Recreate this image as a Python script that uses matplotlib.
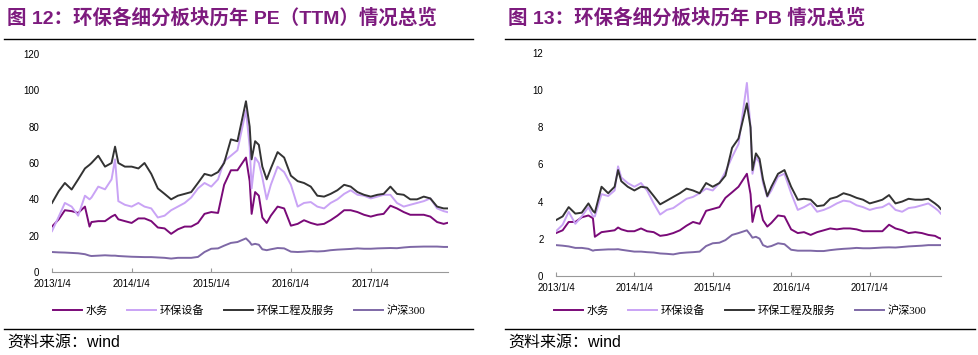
import pandas as pd
import matplotlib
matplotlib.use('Agg')
import matplotlib.pyplot as plt
from matplotlib.lines import Line2D

plt.rcParams['font.family'] = ['Liberation Sans', 'Noto Sans CJK SC']

# sampling dates (monthly, plus extra points around the 2015 swings)
dates = ['2013-01-04', '2013-02-04', '2013-03-04', '2013-04-04', '2013-05-04', '2013-06-04', '2013-06-25',
         '2013-07-04', '2013-08-04', '2013-09-04', '2013-10-04', '2013-10-20', '2013-11-04', '2013-12-04',
         '2014-01-04', '2014-02-04', '2014-03-04', '2014-04-04', '2014-05-04', '2014-06-04',
         '2014-07-04', '2014-08-04', '2014-09-04', '2014-10-04', '2014-11-04', '2014-12-04',
         '2015-01-04', '2015-02-04', '2015-03-04', '2015-04-04', '2015-05-04', '2015-06-12', '2015-06-29',
         '2015-07-08', '2015-07-24', '2015-08-10', '2015-08-26', '2015-09-15', '2015-10-04', '2015-11-04', '2015-12-04',
         '2016-01-04', '2016-02-04', '2016-03-04', '2016-04-04', '2016-05-04', '2016-06-04',
         '2016-07-04', '2016-08-04', '2016-09-04', '2016-10-04', '2016-11-04', '2016-12-04',
         '2017-01-04', '2017-02-04', '2017-03-04', '2017-04-04', '2017-05-04', '2017-06-04',
         '2017-07-04', '2017-08-04', '2017-09-04', '2017-10-04', '2017-11-04', '2017-12-04', '2017-12-20']
pb_dates = dates[:-2] + ['2017-11-20', '2017-12-01']

names = ['水务', '环保设备', '环保工程及服务', '沪深300']
colors = ['#7A0A78', '#C9A3F5', '#333333', '#7E68A6']

# PE (TTM)
pe_water = [25, 29, 34, 33.5, 32.5, 36, 25, 27.5, 28, 28, 30.5, 31.5, 29, 28,
            27, 29.5, 29.5, 28, 24.5, 24, 21, 23.5, 25, 25, 27, 32,
            33, 32.5, 48, 56, 56, 63, 50, 32, 44, 42, 30, 27, 31, 36, 35,
            25.5, 26.5, 28.5, 27, 26, 26.5, 28.5, 31, 34, 34, 33, 31.5,
            30.5, 31.5, 32, 36.5, 35, 33, 31.5, 31.5, 31.5, 30.5, 27.5, 26.5, 27]
pe_equip = [22.5, 30.5, 38, 36, 31, 42, 40, 41, 47, 45.5, 51, 62, 39, 37,
            36, 38, 36, 35, 30, 31, 34, 36, 38, 41, 46, 49,
            47, 51, 61, 64, 67, 89, 69, 46, 63, 60, 52, 40, 48, 58, 55,
            48, 36, 38, 38.5, 36, 35, 38, 40, 43, 45, 42.5, 42,
            40.5, 41.5, 42.5, 42.5, 38, 36, 37, 38, 39, 40.5, 35, 33.5, 33]
pe_eng = [38, 44.5, 49, 45.4, 51, 57, 59, 60, 64, 58, 60, 69, 60, 58,
          58, 57, 60, 54, 46, 43, 40, 42, 43, 44, 49, 54,
          53, 55, 60, 73, 72, 94, 80, 62, 72, 70, 58, 51, 57, 66, 63,
          53, 50, 49, 47, 42, 41.5, 43, 45, 48, 47, 44, 42.5,
          41.5, 42.5, 43, 47, 43, 42.5, 40, 40, 41.5, 40.5, 36, 35, 35]
pe_hs300 = [11, 10.8, 10.7, 10.5, 10.3, 9.8, 9, 8.8, 9, 9.2, 9, 9, 8.8, 8.6,
            8.4, 8.3, 8.2, 8.2, 8, 7.8, 7.4, 7.8, 7.8, 7.8, 8.3, 11,
            12.8, 13, 14.5, 16, 16.5, 18.5, 16.5, 15, 15.5, 15, 12.5, 12, 12.5, 13.2, 13,
            11.2, 11, 11.2, 11.5, 11.3, 11.5, 12, 12.3, 12.5, 12.7, 13, 12.8,
            12.8, 13, 13.1, 13.2, 13.1, 13.5, 13.8, 13.9, 14, 14, 14, 13.8, 13.8]

# PB
pb_water = [2.3, 2.45, 2.9, 2.9, 3.15, 3.25, 3.1, 2.1, 2.35, 2.4, 2.45, 2.6, 2.5, 2.4,
            2.4, 2.55, 2.4, 2.35, 2.15, 2.2, 2.3, 2.45, 2.7, 2.9, 2.8, 3.5,
            3.6, 3.7, 4.2, 4.5, 4.8, 5.5, 4.4, 2.9, 3.7, 3.8, 3.0, 2.65, 2.85, 3.25, 3.2,
            2.5, 2.3, 2.35, 2.2, 2.35, 2.45, 2.55, 2.5, 2.55, 2.55, 2.5, 2.4,
            2.4, 2.4, 2.4, 2.75, 2.55, 2.45, 2.3, 2.35, 2.3, 2.2, 2.15, 2.05, 2.0]
pb_equip = [2.4, 2.75, 3.45, 2.8, 3.2, 3.7, 3.2, 3.2, 4.4, 4.3, 4.6, 5.9, 5.3, 5.0,
            4.8, 5.0, 4.6, 3.9, 3.3, 3.55, 3.65, 3.9, 4.15, 4.25, 4.45, 4.7,
            4.6, 5.0, 5.6, 6.4, 7.1, 10.4, 8.0, 5.5, 6.4, 6.1, 5.0, 4.25, 4.6, 5.35, 5.5,
            4.45, 3.55, 3.7, 3.9, 3.45, 3.55, 3.7, 3.9, 4.05, 4.0, 3.8, 3.7,
            3.55, 3.65, 3.7, 3.9, 3.55, 3.45, 3.65, 3.7, 3.8, 3.9, 3.65, 3.5, 3.35]
pb_eng = [3.0, 3.2, 3.7, 3.35, 3.4, 3.9, 3.5, 3.4, 4.8, 4.45, 4.8, 5.7, 5.1, 4.8,
          4.6, 4.8, 4.75, 4.3, 3.85, 4.05, 4.25, 4.45, 4.7, 4.6, 4.45, 5.0,
          4.8, 5.0, 5.4, 6.9, 7.4, 9.3, 8.0, 5.7, 6.6, 6.3, 5.2, 4.3, 4.8, 5.5, 5.7,
          4.8, 4.1, 4.15, 4.1, 3.75, 3.8, 4.15, 4.25, 4.45, 4.35, 4.2, 4.1,
          3.9, 4.0, 4.1, 4.35, 3.9, 4.0, 4.15, 4.1, 4.1, 4.15, 3.9, 3.75, 3.6]
pb_hs300 = [1.65, 1.62, 1.58, 1.5, 1.5, 1.45, 1.35, 1.38, 1.4, 1.42, 1.42, 1.43, 1.4, 1.35,
            1.3, 1.3, 1.27, 1.25, 1.2, 1.18, 1.15, 1.22, 1.25, 1.27, 1.3, 1.6,
            1.75, 1.78, 1.92, 2.2, 2.3, 2.45, 2.2, 2.05, 2.1, 2.0, 1.65, 1.55, 1.6, 1.75, 1.7,
            1.4, 1.35, 1.35, 1.35, 1.33, 1.33, 1.38, 1.42, 1.45, 1.47, 1.5, 1.48,
            1.48, 1.5, 1.52, 1.53, 1.52, 1.55, 1.58, 1.6, 1.62, 1.65, 1.65, 1.65, 1.65]

tick_dates = ['2013-01-04', '2014-01-04', '2015-01-04', '2016-01-04', '2017-01-04']
tick_labels = ['2013/1/4', '2014/1/4', '2015/1/4', '2016/1/4', '2017/1/4']

W, H = 979, 355
fig = plt.figure(figsize=(W / 100, H / 100), dpi=100)
title_color = '#7D1B7E'


def hline(x0, x1, y):
    fig.add_artist(Line2D([x0 / W, x1 / W], [1 - y / H, 1 - y / H], transform=fig.transFigure,
                          color='black', lw=1.0))


def panel(px, py, x, series, ymax, ystep, xend, title, tx, rule, legend_x):
    ax = fig.add_axes([px[0] / W, 1 - py[0] / H, (px[1] - px[0]) / W, (py[0] - py[1]) / H])
    xd = pd.to_datetime(x)
    for s, c, n in zip(series, colors, names):
        ax.plot(xd, s, color=c, lw=1.4, label=n)
    ax.set_xlim(pd.Timestamp('2013-01-04'), pd.Timestamp(xend))
    ax.set_ylim(0, ymax)
    ax.set_yticks(range(0, ymax + 1, ystep))
    ax.set_xticks(pd.to_datetime(tick_dates))
    ax.set_xticklabels(tick_labels)
    for sp in ['left', 'right', 'top']:
        ax.spines[sp].set_visible(False)
    ax.spines['bottom'].set_color('#999999')
    ax.spines['bottom'].set_linewidth(0.8)
    ax.tick_params(axis='y', length=0, labelsize=7, pad=9)
    ax.tick_params(axis='x', direction='in', length=3, color='#999999', labelsize=7, pad=5)
    ax.legend(loc='center', bbox_to_anchor=(legend_x / W, 1 - 311 / H), bbox_transform=fig.transFigure,
              ncol=4, frameon=False, handlelength=2.6, handletextpad=0.3, columnspacing=1.8,
              prop={'family': ['Liberation Serif', 'Noto Sans CJK SC'], 'size': 8})
    fig.text(tx / W, 1 - 18 / H, title, fontsize=14, fontweight='bold', color=title_color,
             ha='left', va='center')
    hline(rule[0], rule[1], 39)
    hline(rule[0], rule[1], 329)
    fig.text((rule[0] + 3) / W, 1 - 342 / H, '资料来源：wind', fontsize=11.5, ha='left', va='center')
    return ax


panel((52, 448), (272, 54), dates, [pe_water, pe_equip, pe_eng, pe_hs300], 120, 20, '2017-12-24',
      '图 12：环保各细分板块历年 PE（TTM）情况总览', 7, (4, 473), 239)
panel((556, 941), (275.7, 53.3), pb_dates, [pb_water, pb_equip, pb_eng, pb_hs300], 12, 2, '2017-12-02',
      '图 13：环保各细分板块历年 PB 情况总览', 508, (505, 975), 740)

fig.savefig('out.png', dpi=100)
